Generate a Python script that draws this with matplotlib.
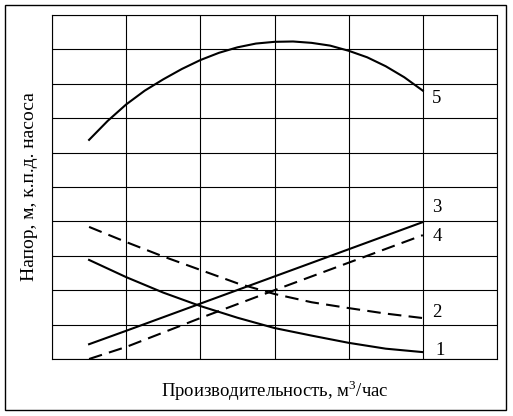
import numpy as np
import matplotlib.pyplot as plt
from matplotlib.patches import Rectangle

plt.rcParams["font.family"] = ["Liberation Serif", "DejaVu Serif"]
plt.rcParams["mathtext.fontset"] = "custom"
plt.rcParams["mathtext.rm"] = "Liberation Serif"

# flow axis, grid units (6 columns x 10 rows)
Q5 = [0.5, 0.75, 1.0, 1.25, 1.5, 1.75, 2.0, 2.25, 2.5, 2.75, 3.0,
      3.25, 3.5, 3.75, 4.0, 4.25, 4.5, 4.75, 5.0]
EFF5 = [6.37, 6.92, 7.4, 7.8, 8.13, 8.43, 8.69, 8.9, 9.06, 9.17, 9.22,
        9.23, 9.19, 9.11, 8.96, 8.77, 8.51, 8.19, 7.8]

Q = [0.5, 1.0, 1.5, 2.0, 2.5, 3.0, 3.5, 4.0, 4.5, 5.0]
HEAD1 = [2.88, 2.38, 1.93, 1.54, 1.2, 0.9, 0.68, 0.47, 0.3, 0.2]
HEAD2 = [3.84, 3.4, 2.98, 2.59, 2.2, 1.89, 1.65, 1.48, 1.32, 1.19]

Q_LIN = [0.5, 1.0, 2.0, 3.0, 4.0, 5.0]
HEAD3 = [0.43, 0.82, 1.61, 2.4, 3.19, 3.98]
HEAD4 = [0.0, 0.35, 1.19, 2.0, 2.8, 3.6]

CURVE_LABELS = ["1", "2", "3", "4", "5"]
LABEL_X = [5.23, 5.19, 5.19, 5.19, 5.19]
LABEL_Y = [0.26, 1.34, 4.39, 3.55, 7.56]

fig = plt.figure(figsize=(5.13, 4.16), dpi=100)
ax = fig.add_axes([52 / 513, 57 / 416, 445 / 513, 344 / 416])

lw = 1.5
dash = (6.5, 3.5)
ax.plot(Q5, EFF5, color="black", lw=lw)
ax.plot(Q, HEAD1, color="black", lw=lw)
ax.plot(Q, HEAD2, color="black", lw=lw, dashes=dash)
ax.plot(Q_LIN, HEAD3, color="black", lw=lw)
ax.plot(Q_LIN, HEAD4, color="black", lw=lw, dashes=dash)

for lab, x, y in zip(CURVE_LABELS, LABEL_X, LABEL_Y):
    ax.text(x, y, lab, fontsize=13.5, ha="center", va="center")

ax.set_xlim(0, 6)
ax.set_ylim(0, 10)
ax.set_xticks(np.arange(0, 7))
ax.set_yticks(np.arange(0, 11))
ax.tick_params(length=0, labelbottom=False, labelleft=False)
ax.grid(True, color="black", lw=0.8)
for sp in ax.spines.values():
    sp.set_linewidth(0.8)

ax.set_xlabel("Производительность, м$^3$/час", fontsize=13.5, labelpad=14)
ax.set_ylabel("Напор, м, к.п.д. насоса", fontsize=14, labelpad=10)

fig.add_artist(Rectangle((5 / 513, 6 / 416), 501 / 513, 405 / 416,
                         transform=fig.transFigure, fill=False,
                         edgecolor="black", lw=1))

fig.savefig("out.png")
